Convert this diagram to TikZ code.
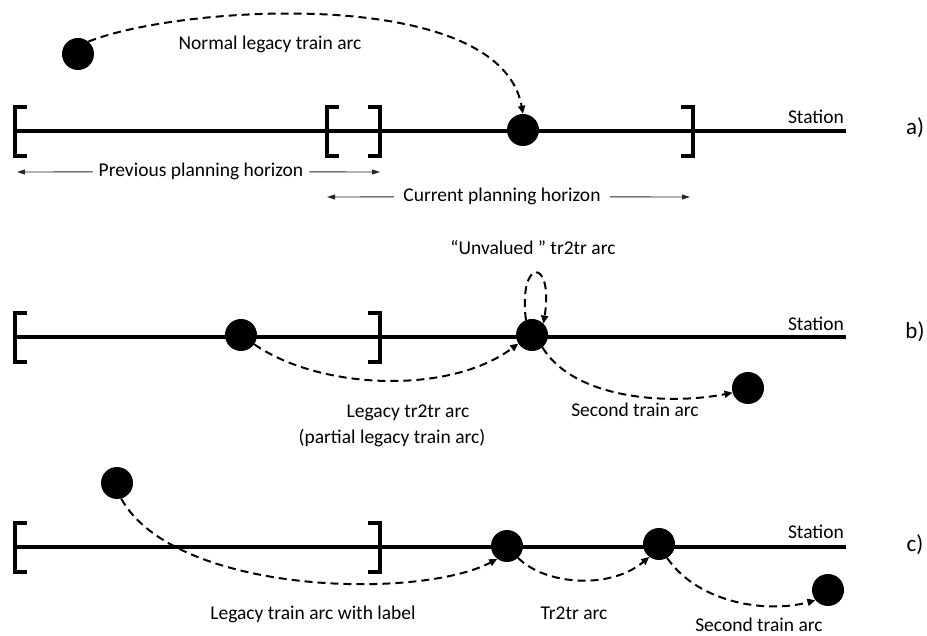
\documentclass[tikz,border=0pt]{standalone}
\usepackage{fontspec}
\setmainfont{Carlito}
\usetikzlibrary{arrows.meta}
\begin{document}
\begin{tikzpicture}[x=1pt,y=1pt,
  station/.style={line width=3.5pt},
  brk/.style={line width=3.5pt, line cap=butt, line join=miter},
  dot/.style={circle, fill=black, minimum size=32pt, inner sep=0pt},
  arc/.style={line width=2pt, dash pattern=on 8pt off 5pt, -{Triangle[length=8pt,width=7pt]}},
  hz/.style={line width=0.9pt, draw=black!85, -{Triangle[length=8pt,width=5pt]}},
  lbl/.style={font=\fontsize{19.5}{22}\selectfont, inner sep=0pt, anchor=base},
  hzl/.style={font=\fontsize{19.5}{22}\selectfont, inner ysep=0pt, inner xsep=6pt, anchor=base},
  tag/.style={font=\fontsize{23}{26}\selectfont, inner sep=0pt}
]
\useasboundingbox (0,0) rectangle (927,635);

% ---------------- a) ----------------
\coordinate (a0) at (15,504);
\coordinate (a1) at (846,504);
\draw[station] (a0) -- (a1);
\draw[brk] (27,528) -- (15,528) -- (15,479) -- (27,479);
\draw[brk] (339,528) -- (327,528) -- (327,479) -- (339,479);
\draw[brk] (368,528) -- (380,528) -- (380,479) -- (368,479);
\draw[brk] (681,528) -- (693,528) -- (693,479) -- (681,479);
\node[dot] (as) at (78,581) {};
\node[dot] (ac) at (523,505) {};
\draw[arc] (as.50) .. controls (180,630) and (500,650) .. (ac.north);
\node[lbl] (anorm) at (270,585) {Normal legacy train arc};
\node[lbl, anchor=base east] (ast) at (844,511) {Station};
\node[tag] (atag) at (915,507) {a)};

\node[hzl] (prev) at (201,458) {Previous planning horizon};
\coordinate (pl) at (17,463);
\coordinate (pr) at (380,463);
\draw[hz] (prev.west) -- (pl);
\draw[hz] (prev.east) -- (pr);
\node[hzl, inner xsep=9pt] (cur) at (502,433) {Current planning horizon};
\coordinate (cl) at (327,438);
\coordinate (cr) at (690,438);
\draw[hz] (cur.west) -- (cl);
\draw[hz] (cur.east) -- (cr);

% ---------------- b) ----------------
\coordinate (b0) at (15,298);
\coordinate (b1) at (846,298);
\draw[station] (b0) -- (b1);
\draw[brk] (27,322) -- (15,322) -- (15,273) -- (27,273);
\draw[brk] (368,322) -- (380,322) -- (380,273) -- (368,273);
\node[dot] (b1n) at (241,300) {};
\node[dot] (b2n) at (532,300) {};
\node[dot] (b3n) at (748,247) {};
\draw[arc] (b1n.-35) .. controls (320,245) and (450,240) .. (b2n.212);
\draw[arc] (b2n.112) .. controls (518,378) and (554,378) .. (b2n.45);
\draw[arc] (b2n.-50) .. controls (575,235) and (670,230) .. (b3n.197);
\node[lbl] (bunv) at (533,380) {“Unvalued ” tr2tr arc};
\node[lbl] (bleg) at (408,217) {Legacy tr2tr arc};
\node[lbl] (bpart) at (392,191) {(partial legacy train arc)};
\node[lbl] (bsec) at (635,218) {Second train arc};
\node[lbl, anchor=base east] (bst) at (844,304) {Station};
\node[tag] (btag) at (915,303) {b)};

% ---------------- c) ----------------
\coordinate (c0) at (15,88);
\coordinate (c1) at (846,88);
\draw[station] (c0) -- (c1);
\draw[brk] (27,112) -- (15,112) -- (15,63) -- (27,63);
\draw[brk] (368,112) -- (380,112) -- (380,63) -- (368,63);
\node[dot] (c1n) at (117,152) {};
\node[dot] (c2n) at (507,89) {};
\node[dot] (c3n) at (659,91) {};
\node[dot] (c4n) at (828,45) {};
\draw[arc] (c1n.-75) .. controls (175,40) and (420,35) .. (c2n.233);
\draw[arc] (c2n.-47) .. controls (545,50) and (610,45) .. (c3n.233);
\draw[arc] (c3n.-60) .. controls (700,30) and (770,22) .. (c4n.219);
\node[lbl] (cleg) at (313,16) {Legacy train arc with label};
\node[lbl] (ctr) at (574,16) {Tr2tr arc};
\node[lbl] (csec) at (759,4) {Second train arc};
\node[lbl, anchor=base east] (cst) at (844,96) {Station};
\node[tag] (ctag) at (915,90) {c)};
\end{tikzpicture}
\end{document}
